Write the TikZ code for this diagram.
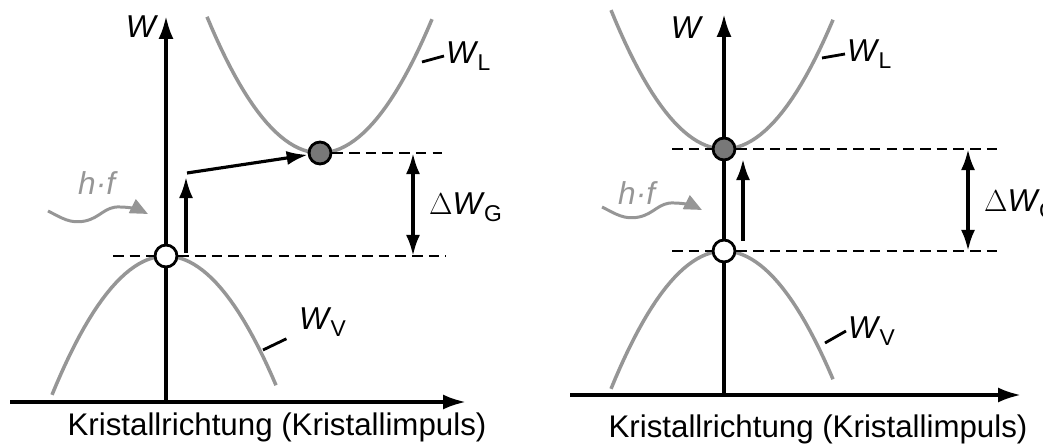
\documentclass[tikz,border=0pt]{standalone}
\usepackage{fontspec}
\setmainfont{Liberation Sans}
\usetikzlibrary{arrows.meta}
\definecolor{bandgray}{RGB}{150,150,150}
\definecolor{dotgray}{RGB}{120,120,120}
\newcommand{\bandsub}[1]{\kern-0.5pt\raisebox{-0.45ex}{\fontsize{13}{14}\selectfont #1}}

\tikzset{
  band/.style={bandgray,line width=2pt},
  axis/.style={line width=2pt,-{Latex[length=13pt,width=8.5pt]}},
  jump/.style={line width=1.8pt,-{Latex[length=12pt,width=8pt]}},
  gap/.style={line width=2pt,{Latex[length=12pt,width=8pt]}-{Latex[length=12pt,width=8pt]}},
  level/.style={line width=1.4pt,dash pattern=on 6pt off 3.5pt},
  leader/.style={line width=1.6pt},
  hole/.style={circle,draw,fill=white,line width=1.6pt,minimum size=12.5pt,inner sep=0pt},
  electron/.style={hole,fill=dotgray},
  lbl/.style={font=\fontsize{18}{21}\selectfont,inner sep=1pt},
  axtitle/.style={font=\fontsize{17.8}{21}\selectfont,anchor=base,inner sep=0pt},
  photon/.style={bandgray,line width=1.7pt,-{Triangle[length=10pt,width=8.5pt]}}
}

\begin{document}
\begin{tikzpicture}[x=0.02cm,y=-0.02cm]
  \useasboundingbox (0,0) rectangle (1043,445);

  % indirekter Halbleiter
  \coordinate (o1) at (166,402);
  \coordinate (wtop1) at (166,16);
  \coordinate (kl1) at (10,402);
  \coordinate (kr1) at (466,402);
  \draw[band] plot[domain=-113:112,samples=50] ({320+\x},{153-135*(\x/112.5)^2});
  \draw[band] plot[domain=-114:110,samples=50] ({166+\x},{256+134*(\x/112)^2});
  \draw[axis] (kl1) -- (kr1);
  \draw[axis] (o1) -- (wtop1);
  \node[lbl] (w1) at (142,27) {\textit{W}};
  \node[hole] (h1) at (166,256) {};
  \node[electron] (e1) at (320,153) {};
  \coordinate (la1) at (113,256);
  \coordinate (lb1) at (446,256);
  \coordinate (lc1) at (442,153);
  \draw[level] (la1) -- (h1) -- (lb1);
  \draw[level] (e1) -- (lc1);
  \coordinate (up1a) at (186,253);
  \coordinate (up1b) at (186,177);
  \draw[jump] (up1a) -- (up1b);
  \coordinate (s1) at (187,173);
  \draw[jump] (s1) -- (e1);
  \coordinate (g1a) at (413,153);
  \coordinate (g1b) at (413,256);
  \draw[gap] (g1a) -- (g1b);
  \node[lbl,anchor=west] (dg1) at (427,207) {$\Delta$\textit{W}\bandsub{G}};
  \node[lbl,anchor=west] (wl1) at (444,56) {\textit{W}\bandsub{L}};
  \coordinate (wlc1) at (422,62);
  \draw[leader] (wlc1) -- (wl1.west);
  \node[lbl,anchor=west] (wv1) at (297,322) {\textit{W}\bandsub{V}};
  \coordinate (wvc1) at (263,350);
  \draw[leader] (wvc1) -- ([xshift=-6pt]wv1.south west);
  \node[lbl,bandgray] (hf1) at (98,183) {\textit{h·f}};
  \draw[photon] (48,211) .. controls (62,218) and (70,224) .. (85,221)
    .. controls (100,218) and (105,206) .. (120,207)
    .. controls (130,207) and (140,210) .. (148,214);
  \node[axtitle] (k1) at (277,435) {Kristallrichtung (Kristallimpuls)};

  % direkter Halbleiter
  \coordinate (o2) at (724,395);
  \coordinate (wtop2) at (724,14);
  \coordinate (kl2) at (570,395);
  \coordinate (kr2) at (1021,395);
  \draw[band] plot[domain=-113:109,samples=50] ({724+\x},{149-134*(\x/111)^2});
  \draw[band] plot[domain=-113:109,samples=50] ({724+\x},{251+133*(\x/111)^2});
  \draw[axis] (kl2) -- (kr2);
  \draw[axis] (o2) -- (wtop2);
  \node[lbl] (w2) at (687,28) {\textit{W}};
  \node[hole] (h2) at (724,251) {};
  \node[electron] (e2) at (724,149) {};
  \coordinate (la2) at (672,251);
  \coordinate (lb2) at (1000,251);
  \coordinate (lc2) at (672,149);
  \coordinate (ld2) at (1000,149);
  \draw[level] (la2) -- (h2) -- (lb2);
  \draw[level] (lc2) -- (e2) -- (ld2);
  \coordinate (up2a) at (743,241);
  \coordinate (up2b) at (743,159);
  \draw[jump] (up2a) -- (up2b);
  \coordinate (g2a) at (968,149);
  \coordinate (g2b) at (968,251);
  \draw[gap] (g2a) -- (g2b);
  \node[lbl,anchor=west] (dg2) at (982,204) {$\Delta$\textit{W}\bandsub{G}};
  \node[lbl,anchor=west] (wl2) at (845,54) {\textit{W}\bandsub{L}};
  \coordinate (wlc2) at (822,58);
  \draw[leader] (wlc2) -- (wl2.west);
  \node[lbl,anchor=west] (wv2) at (846,331) {\textit{W}\bandsub{V}};
  \coordinate (wvc2) at (825,343);
  \draw[leader] (wvc2) -- (wv2.west);
  \node[lbl,bandgray] (hf2) at (638,193) {\textit{h·f}};
  \draw[photon] (602,207) .. controls (616,214) and (624,220) .. (639,217)
    .. controls (654,214) and (659,202) .. (674,203)
    .. controls (684,203) and (694,206) .. (702,210);
  \node[axtitle] (k2) at (818,437) {Kristallrichtung (Kristallimpuls)};
\end{tikzpicture}
\end{document}
